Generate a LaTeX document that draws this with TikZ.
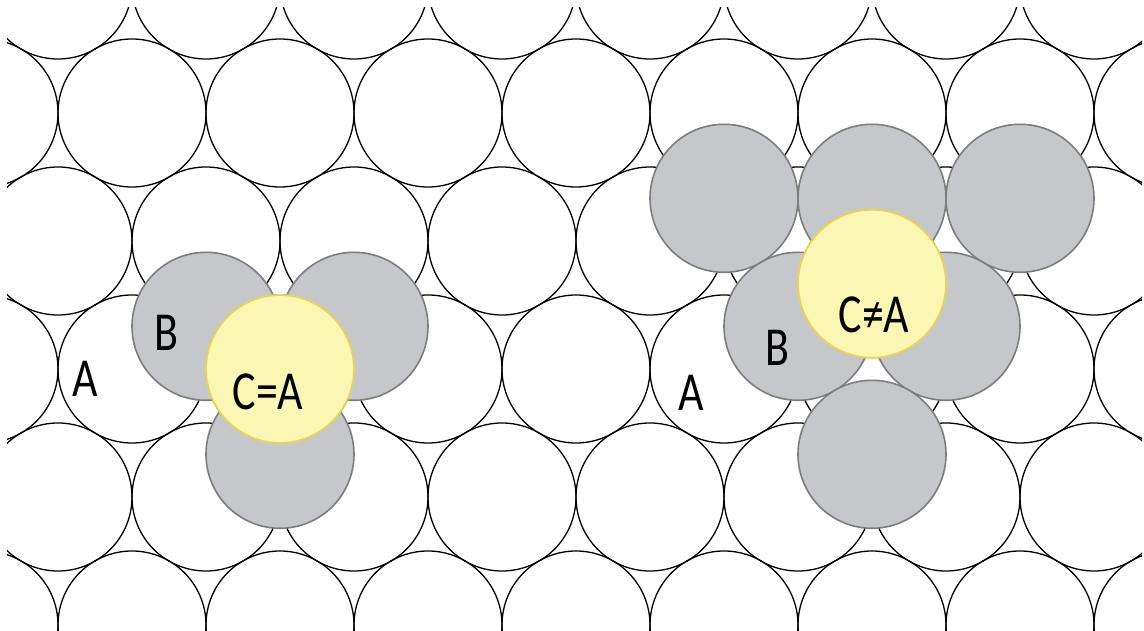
\documentclass[tikz,border=0pt]{standalone}
\usepackage{fontspec}
\setmainfont{Carlito}[FakeStretch=0.8]
\definecolor{bfill}{RGB}{197,199,202}
\definecolor{bline}{RGB}{125,125,125}
\definecolor{cfill}{RGB}{250,246,180}
\definecolor{cline}{RGB}{232,212,84}
\begin{document}
\begin{tikzpicture}[x=1pt,y=-1pt,
  alayer/.style={draw=black,line width=1.3pt},
  blayer/.style={draw=bline,fill=bfill,line width=1.6pt},
  clayer/.style={draw=cline,fill=cfill,line width=1.8pt},
  lbl/.style={anchor=base,inner sep=0pt,font=\fontsize{55}{60}\selectfont}]
\useasboundingbox (0,0) rectangle (1144,631);
\begin{scope}
\clip (7,8) rectangle (1142,631);
\foreach \j in {0,...,5}{
  \pgfmathsetmacro\yy{-15+128*\j}
  \pgfmathsetmacro\xo{mod(\j,2)==1 ? 132 : 58}
  \foreach \k in {-1,...,8}{
    \draw[alayer] (\xo+148*\k,\yy) circle[radius=74pt];
  }
}
\end{scope}
% left group: B layer and C over A
\coordinate (lb1) at (206,326.3);
\coordinate (lb2) at (354,326.3);
\coordinate (lb3) at (280,454.3);
\coordinate (lc) at (280,369);
\foreach \p in {lb1,lb2,lb3}{\draw[blayer] (\p) circle[radius=74pt];}
\draw[clayer] (lc) circle[radius=74pt];
% right group: B layer and C not over A
\coordinate (rb1) at (724,198.3);
\coordinate (rb2) at (872,198.3);
\coordinate (rb3) at (1020,198.3);
\coordinate (rb4) at (798,326.3);
\coordinate (rb5) at (946,326.3);
\coordinate (rb6) at (872,454.3);
\coordinate (rc) at (872,283.7);
\foreach \p in {rb1,rb2,rb3,rb4,rb5,rb6}{\draw[blayer] (\p) circle[radius=74pt];}
\draw[clayer] (rc) circle[radius=74pt];
% labels
\node[lbl] (a1) at (85,396) {A};
\node[lbl] (b1) at (166,350) {B};
\node[lbl] (c1) at (268,409) {C=A};
\node[lbl] (a2) at (691,410) {A};
\node[lbl] (b2) at (777,365) {B};
\node[lbl] (c2) at (874,333) {C≠A};
\end{tikzpicture}
\end{document}
